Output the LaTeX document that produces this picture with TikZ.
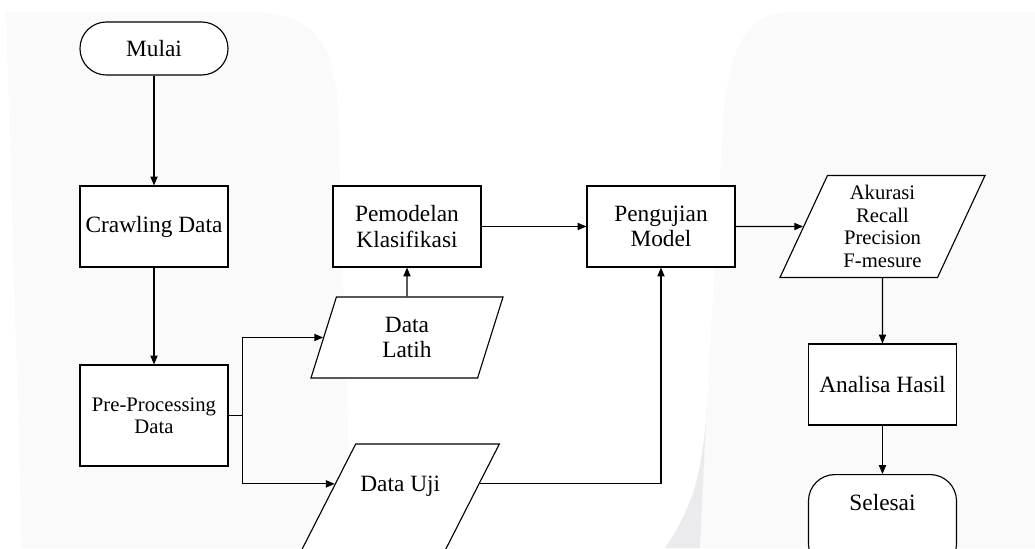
\documentclass[tikz,border=0pt]{standalone}
\usepackage{fontspec}
\setmainfont{Liberation Serif}
\usetikzlibrary{shapes.geometric, arrows.meta, calc}

\definecolor{Shade}{HTML}{FAFAFA}
\definecolor{ShadeDark}{HTML}{EBEBED}
\tikzstyle{Proc} = [draw,
                    rectangle,
                    minimum width=3.7cm,
                    minimum height=2.025cm,
                    align=center,
                    font=\fontsize{16.6}{17.8}\selectfont]
\tikzstyle{Term} = [draw,
                    rectangle,
                    rounded corners=0.66cm,
                    minimum width=3.7cm,
                    minimum height=1.325cm,
                    font=\fontsize{16.6}{17.8}\selectfont]
\tikzstyle{Data} = [draw,
                    trapezium,
                    trapezium left angle=63,
                    trapezium right angle=117,
                    trapezium stretches body,
                    align=center,
                    fill=white,
                    font=\fontsize{16.6}{17.8}\selectfont]
\tikzstyle{Flow} = [-{Triangle[length=0.22cm, width=0.18cm]}, line width=0.8pt]

\begin{document}
\begin{tikzpicture}[x=0.025cm, y=-0.025cm, line width=0.8pt]

    \useasboundingbox (0, 0) rectangle (1035, 548);
    \clip (0, 0) rectangle (1035, 548);

    % Faint background shapes
    \fill[Shade] (6, 12) -- (250, 12) .. controls (320, 12) and (337, 50) .. (338, 120)
        -- (352, 548) -- (22, 548) -- cycle;
    \fill[Shade] (1035, 12) -- (790, 12) .. controls (745, 12) and (726, 50) .. (722, 140)
        -- (707, 400) -- (700, 548) -- (1035, 548) -- cycle;
    \fill[ShadeDark] (707, 400) .. controls (703, 480) and (690, 510) .. (665, 548)
        -- (700, 548) -- cycle;

    % Left column
    \node (mulai) at (154, 48.5) [Term, fill=white]{Mulai};
    \node (crawling) at (154, 226.5) [Proc, fill=white]{Crawling Data};
    \node (pre) at (154, 415.5) [Proc, fill=white, minimum height=2.525cm,
        font=\fontsize{14.7}{15.8}\selectfont]{Pre-Processing\\Data};

    % Middle nodes
    \node (pemodelan) at (407, 226.5) [Proc, fill=white]{Pemodelan\\Klasifikasi};
    \node (latih) at (407, 337.5) [Data, minimum width=4.8cm, minimum height=2.025cm]{Data\\Latih};
    \node (uji) at (400.25, 497.5) [Data, inner ysep=0pt, text height=1.175cm,
        text depth=1.5cm]{Data Uji};
    \node (pengujian) at (661, 226.5) [Proc, fill=white]{Pengujian\\Model};

    % Right column
    \node (akurasi) at (882.5, 226.5) [Data, trapezium left angle=61, trapezium right angle=119,
        minimum width=5.125cm, minimum height=2.55cm, inner ysep=1pt,
        font=\fontsize{14.7}{16.2}\selectfont]{Akurasi\\Recall\\Precision\\F-mesure};
    \node (analisa) at (882.5, 384.5) [Proc, fill=white]{Analisa Hasil};
    \node (selesai) at (882.5, 474) [Term, fill=white, anchor=north, inner ysep=0pt,
        text height=0.89cm, text depth=1.5cm]{Selesai};

    \coordinate (ujiIn) at ($(uji.top left corner)!0.374!(uji.bottom left corner)$);
    \coordinate (ujiOut) at ($(uji.top right corner)!0.374!(uji.bottom right corner)$);

    % Lines
    \draw [Flow] (mulai) -- (crawling);
    \draw [Flow] (crawling) -- (pre);
    \draw (pre.east) -- ++(14, 0) coordinate (split);
    \draw [Flow] (split) |- (latih);
    \draw [Flow] (split) |- (ujiIn);
    \draw [Flow] (latih) -- (pemodelan);
    \draw [Flow] (pemodelan) -- (pengujian);
    \draw [Flow] (ujiOut) -| (pengujian);
    \draw [Flow] (pengujian) -- (akurasi);
    \draw [Flow] (akurasi) -- (analisa);
    \draw [Flow] (analisa) -- (selesai);

\end{tikzpicture}
\end{document}
